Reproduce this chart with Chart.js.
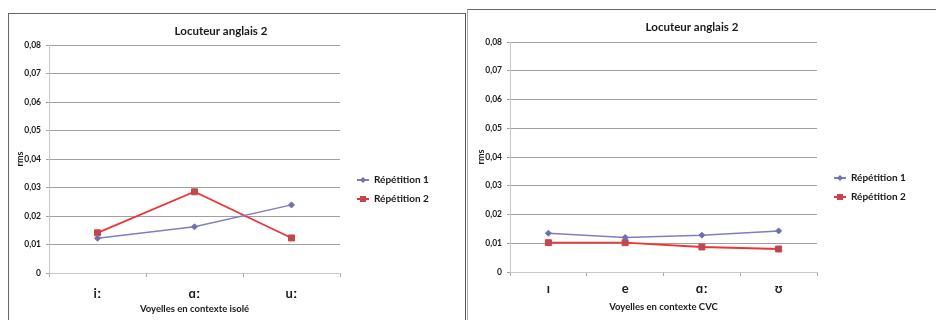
<!DOCTYPE html>
<html>
<head>
<meta charset="utf-8">
<script src="https://cdn.jsdelivr.net/npm/chart.js@4/dist/chart.umd.min.js"></script>
<style>
  html, body { margin: 0; padding: 0; background: #fff; overflow: hidden; width: 936px; height: 320px; }
  .cadre { position: absolute; background: #fff; }
  #cadreIsole { left: 8px; top: 13px; width: 456px; height: 320px; border-left: 1px solid #666; border-top: 1px solid #666; border-right: 1px solid #555; }
  #cadreCVC { left: 467px; top: 9px; width: 470px; height: 320px; border-left: 1px solid #aaa; border-top: 1px solid #666; }
  canvas { display: block; }
</style>
</head>
<body>
<div class="cadre" id="cadreIsole"><canvas id="graphIsole" width="456" height="306"></canvas></div>
<div class="cadre" id="cadreCVC"><canvas id="graphCVC" width="468" height="310"></canvas></div>
<script>
// données
const voyellesIsole = ['iː', 'ɑː', 'uː'];
const rep1Isole = [0.0122, 0.0162, 0.0239];
const rep2Isole = [0.0141, 0.0285, 0.0123];

const voyellesCVC = ['ɪ', 'e', 'ɑː', 'ʊ'];
const rep1CVC = [0.0135, 0.0120, 0.0128, 0.0143];
const rep2CVC = [0.0102, 0.0102, 0.0087, 0.0080];

const nomsSeries = ['Répétition 1', 'Répétition 2'];
const yMin = 0, yMax = 0.08, yPas = 0.01;

const police = "Lato, 'DejaVu Sans', sans-serif";
const couleur1 = '#7f7fbf', marque1 = '#6f6fb0';
const couleur2 = '#ee3535', marque2 = '#a9505c';

// petite icône ligne + marqueur pour la légende
function icone(ligne, fond, bord, forme) {
  const c = document.createElement('canvas');
  c.width = 12; c.height = 8;
  const ctx = c.getContext('2d');
  ctx.strokeStyle = ligne; ctx.lineWidth = 2;
  ctx.beginPath(); ctx.moveTo(0, 4); ctx.lineTo(12, 4); ctx.stroke();
  ctx.fillStyle = fond; ctx.strokeStyle = bord; ctx.lineWidth = 1;
  if (forme === 'carre') {
    ctx.fillRect(3.5, 1.5, 5, 5); ctx.strokeRect(3.5, 1.5, 5, 5);
  } else {
    ctx.beginPath(); ctx.moveTo(6, 1); ctx.lineTo(9, 4); ctx.lineTo(6, 7); ctx.lineTo(3, 4); ctx.closePath(); ctx.fill();
  }
  return c;
}
const icones = [icone(couleur1, marque1, marque1, 'losange'), icone(couleur2, marque2, couleur2, 'carre')];

// ajuste la taille de la légende et décale légende / titre
const ajustement = {
  id: 'ajustement',
  beforeLayout(chart, args, o) {
    const lg = chart.legend;
    if (lg && !lg._largeurFixe) {
      const fit = lg.fit.bind(lg);
      lg.fit = () => { fit(); lg.width = o.largeurLegende; };
      lg._largeurFixe = true;
    }
  },
  afterLayout(chart, args, o) {
    const lg = chart.legend;
    lg.left += o.legendeDx; lg.right += o.legendeDx;
    lg.top += o.legendeDy; lg.bottom += o.legendeDy;
    const t = chart.titleBlock;
    t.left += o.titreDx; t.right += o.titreDx;
  }
};

function graphique(id, categories, serie1, serie2, titreX, r) {
  new Chart(document.getElementById(id), {
    type: 'line',
    data: {
      labels: categories,
      datasets: [
        { label: nomsSeries[0], data: serie1, borderColor: couleur1, backgroundColor: marque1,
          borderWidth: 1.5, pointStyle: 'rectRot', pointRadius: 3, pointBackgroundColor: marque1,
          pointBorderColor: marque1, pointBorderWidth: 1, tension: 0 },
        { label: nomsSeries[1], data: serie2, borderColor: couleur2, backgroundColor: marque2,
          borderWidth: 1.8, pointStyle: 'rect', pointRadius: 4.2, pointBackgroundColor: marque2,
          pointBorderColor: couleur2, pointBorderWidth: 1, tension: 0 }
      ]
    },
    options: {
      responsive: false,
      animation: false,
      devicePixelRatio: 1,
      layout: { padding: 0 },
      plugins: {
        tooltip: { enabled: false },
        title: {
          display: true, text: 'Locuteur anglais 2', color: '#1a1a1a',
          font: { family: police, size: 11.5, weight: 'bold' },
          padding: { top: 10.1, bottom: r.titreBas }
        },
        legend: {
          position: 'right',
          labels: {
            usePointStyle: true, pointStyleWidth: 12, padding: 9, color: '#1a1a1a',
            font: { family: police, size: 10, weight: 'bold' },
            generateLabels(chart) {
              const items = Chart.defaults.plugins.legend.labels.generateLabels(chart);
              items.forEach((it, i) => { it.pointStyle = icones[i]; });
              return items;
            }
          }
        },
        ajustement: { largeurLegende: r.largeurLegende, legendeDx: 8, legendeDy: 22.5, titreDx: r.titreDx }
      },
      scales: {
        x: {
          offset: true,
          afterFit(s) { s.height = r.hauteurX; },
          grid: { offset: true, drawOnChartArea: false, drawTicks: true, tickLength: 4, color: '#aaa' },
          border: { color: '#c8c8c8' },
          ticks: { padding: r.padTicksX, color: '#1a1a1a', font: { family: police, size: 13, weight: 'bold' } },
          title: { display: true, text: titreX, color: '#1a1a1a',
                   font: { family: police, size: 9.5, weight: 'bold' }, padding: { top: 0, bottom: r.padTitreX } }
        },
        y: {
          min: yMin, max: yMax,
          afterFit(s) { s.width = r.largeurY; },
          grid: { color: '#a0a0a0', tickLength: 3 },
          border: { color: '#c8c8c8' },
          ticks: {
            stepSize: yPas, padding: 5, color: '#1a1a1a',
            font: { family: police, size: 8.5, weight: 'bold' },
            callback: v => v === 0 ? '0' : v.toFixed(2).replace('.', ',')
          },
          title: { display: true, text: 'rms', color: '#1a1a1a',
                   font: { family: police, size: 9, weight: 'bold' }, padding: { top: r.padTitreY, bottom: 0 } }
        }
      }
    },
    plugins: [ajustement]
  });
}

graphique('graphIsole', voyellesIsole, rep1Isole, rep2Isole, 'Voyelles en contexte isolé',
  { titreBas: 7.1, largeurLegende: 125, titreDx: -16, hauteurX: 47, padTicksX: 9, padTitreX: 5, largeurY: 40, padTitreY: 5.6 });
graphique('graphCVC', voyellesCVC, rep1CVC, rep2CVC, 'Voyelles en contexte CVC',
  { titreBas: 8.1, largeurLegende: 119, titreDx: -10, hauteurX: 48, padTicksX: 5, padTitreX: 7, largeurY: 42, padTitreY: 7.6 });
</script>
</body>
</html>
